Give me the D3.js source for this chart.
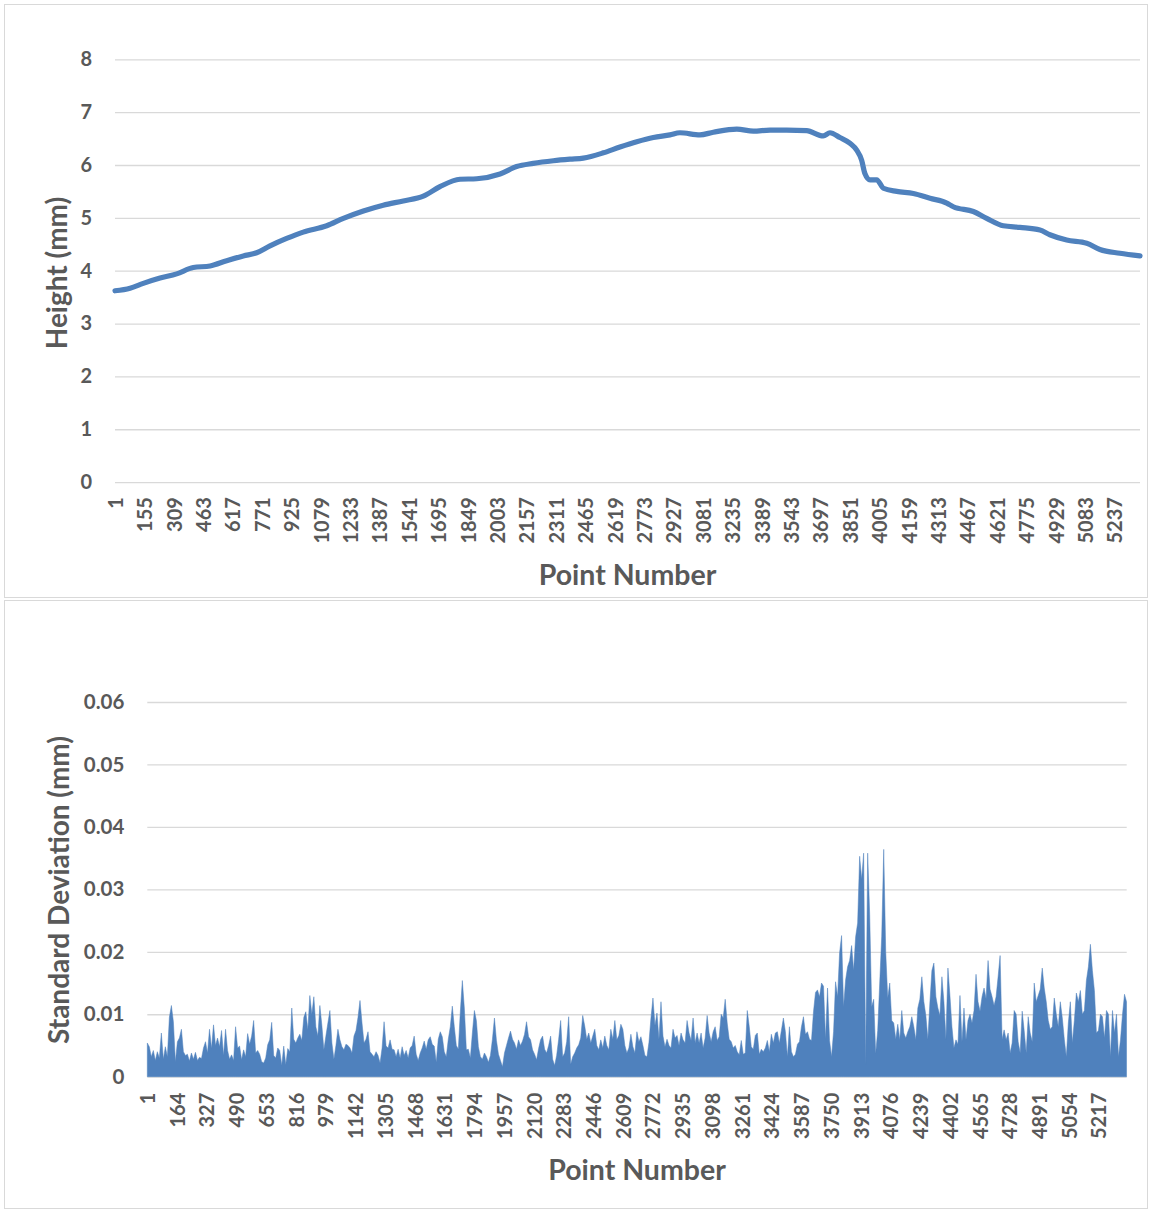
<!DOCTYPE html>
<html>
<head>
<meta charset="utf-8">
<script src="https://cdn.jsdelivr.net/npm/d3@7"></script>
<style>
  html, body { margin: 0; padding: 0; background: #ffffff; }
  svg { display: block; }
  text { font-family: Lato, "Noto Sans", sans-serif; font-weight: 700; fill: #595959; }
</style>
</head>
<body>
<svg id="chart" width="1151" height="1211"></svg>
<script>
// ---- Height profile (mm) along the scan ----
const heightPointNumbers = [1, 80, 149, 237, 324, 411, 499, 586, 673, 743,
  813, 900, 987, 1110, 1197, 1302, 1406, 1511, 1616, 1703,
  1808, 1896, 2018, 2105, 2192, 2297, 2384, 2454, 2559, 2646,
  2734, 2821, 2908, 2960, 3065, 3135, 3258, 3345, 3432, 3519,
  3624, 3711, 3746, 3798, 3851, 3886, 3912, 3929, 3956, 3991,
  4026, 4096, 4183, 4270, 4358, 4392, 4497, 4567, 4654, 4741,
  4846, 4898, 4986, 5091, 5160, 5265, 5370];
const heightMm = [3.62, 3.67, 3.76, 3.86, 3.94, 4.06, 4.09, 4.19, 4.28, 4.34,
  4.47, 4.61, 4.73, 4.85, 4.99, 5.13, 5.24, 5.32, 5.41, 5.59,
  5.73, 5.74, 5.83, 5.97, 6.03, 6.08, 6.11, 6.13, 6.23, 6.34,
  6.44, 6.52, 6.57, 6.61, 6.57, 6.62, 6.68, 6.64, 6.66, 6.66,
  6.65, 6.55, 6.61, 6.52, 6.41, 6.28, 6.09, 5.84, 5.72, 5.72,
  5.56, 5.50, 5.46, 5.37, 5.28, 5.21, 5.12, 4.99, 4.85, 4.82,
  4.77, 4.68, 4.58, 4.52, 4.40, 4.33, 4.28];
const heightTickLabels = [1, 155, 309, 463, 617, 771, 925, 1079, 1233, 1387,
  1541, 1695, 1849, 2003, 2157, 2311, 2465, 2619, 2773, 2927,
  3081, 3235, 3389, 3543, 3697, 3851, 4005, 4159, 4313, 4467,
  4621, 4775, 4929, 5083, 5237];
const heightYTicks = [0, 1, 2, 3, 4, 5, 6, 7, 8];

// ---- Standard deviation (mm), one value every sdStep points ----
const sdStep = 11;
const sdMm = [
  0.0054,0.0048,0.0032,0.0042,0.0026,0.0040,0.0030,0.0070,0.0028,0.0048,0.0032,0.0095,0.0114,0.0088,0.0024,0.0056,0.0062,0.0076,0.0040,0.0034,
  0.0036,0.0025,0.0038,0.0028,0.0039,0.0026,0.0031,0.0029,0.0046,0.0056,0.0038,0.0076,0.0045,0.0083,0.0050,0.0062,0.0048,0.0074,0.0034,0.0076,
  0.0042,0.0028,0.0035,0.0026,0.0080,0.0046,0.0049,0.0027,0.0043,0.0032,0.0069,0.0052,0.0065,0.0090,0.0038,0.0042,0.0036,0.0024,0.0022,0.0030,
  0.0051,0.0059,0.0087,0.0034,0.0030,0.0046,0.0042,0.0018,0.0049,0.0019,0.0045,0.0040,0.0110,0.0060,0.0054,0.0062,0.0068,0.0058,0.0095,0.0104,
  0.0075,0.0130,0.0100,0.0128,0.0080,0.0065,0.0114,0.0082,0.0043,0.0065,0.0086,0.0106,0.0054,0.0028,0.0050,0.0076,0.0059,0.0048,0.0043,0.0052,
  0.0050,0.0046,0.0038,0.0065,0.0074,0.0095,0.0122,0.0086,0.0054,0.0060,0.0072,0.0040,0.0036,0.0032,0.0040,0.0034,0.0022,0.0046,0.0088,0.0049,
  0.0046,0.0059,0.0044,0.0043,0.0032,0.0044,0.0030,0.0048,0.0034,0.0042,0.0030,0.0046,0.0050,0.0065,0.0036,0.0026,0.0038,0.0046,0.0057,0.0044,
  0.0059,0.0064,0.0052,0.0049,0.0023,0.0060,0.0072,0.0064,0.0040,0.0032,0.0060,0.0080,0.0113,0.0080,0.0050,0.0044,0.0104,0.0154,0.0110,0.0043,
  0.0044,0.0030,0.0070,0.0106,0.0090,0.0048,0.0032,0.0028,0.0038,0.0032,0.0023,0.0034,0.0060,0.0094,0.0058,0.0036,0.0026,0.0016,0.0038,0.0050,
  0.0062,0.0073,0.0060,0.0054,0.0044,0.0059,0.0050,0.0057,0.0068,0.0088,0.0064,0.0059,0.0043,0.0036,0.0027,0.0045,0.0059,0.0065,0.0044,0.0038,
  0.0050,0.0065,0.0028,0.0018,0.0034,0.0060,0.0090,0.0032,0.0038,0.0056,0.0096,0.0020,0.0032,0.0038,0.0046,0.0051,0.0062,0.0098,0.0081,0.0060,
  0.0070,0.0054,0.0065,0.0076,0.0050,0.0043,0.0059,0.0046,0.0065,0.0050,0.0043,0.0076,0.0060,0.0090,0.0059,0.0066,0.0084,0.0076,0.0050,0.0038,
  0.0046,0.0068,0.0048,0.0038,0.0072,0.0056,0.0064,0.0050,0.0034,0.0032,0.0055,0.0094,0.0126,0.0082,0.0102,0.0060,0.0120,0.0065,0.0048,0.0060,
  0.0050,0.0046,0.0076,0.0062,0.0066,0.0050,0.0070,0.0059,0.0054,0.0090,0.0070,0.0058,0.0094,0.0054,0.0070,0.0054,0.0070,0.0046,0.0062,0.0098,
  0.0070,0.0056,0.0072,0.0080,0.0058,0.0064,0.0100,0.0094,0.0124,0.0086,0.0060,0.0056,0.0046,0.0050,0.0040,0.0035,0.0058,0.0036,0.0038,0.0106,
  0.0080,0.0048,0.0044,0.0066,0.0070,0.0036,0.0044,0.0040,0.0046,0.0058,0.0040,0.0068,0.0054,0.0070,0.0072,0.0054,0.0074,0.0094,0.0072,0.0032,
  0.0080,0.0040,0.0032,0.0036,0.0052,0.0056,0.0080,0.0096,0.0068,0.0072,0.0060,0.0058,0.0104,0.0135,0.0139,0.0128,0.0150,0.0145,0.0060,0.0142,
  0.0058,0.0032,0.0072,0.0152,0.0128,0.0198,0.0226,0.0112,0.0155,0.0176,0.0186,0.0210,0.0170,0.0224,0.0246,0.0353,0.0316,0.0358,0.0019,0.0358,
  0.0260,0.0112,0.0124,0.0037,0.0074,0.0150,0.0225,0.0364,0.0200,0.0126,0.0150,0.0090,0.0086,0.0060,0.0084,0.0059,0.0106,0.0070,0.0062,0.0072,
  0.0080,0.0096,0.0080,0.0059,0.0110,0.0124,0.0160,0.0120,0.0098,0.0060,0.0118,0.0170,0.0182,0.0128,0.0110,0.0098,0.0160,0.0120,0.0060,0.0174,
  0.0130,0.0080,0.0046,0.0059,0.0052,0.0130,0.0056,0.0110,0.0059,0.0090,0.0100,0.0086,0.0106,0.0164,0.0120,0.0105,0.0128,0.0142,0.0125,0.0186,
  0.0140,0.0128,0.0114,0.0128,0.0160,0.0194,0.0060,0.0075,0.0059,0.0070,0.0038,0.0054,0.0106,0.0100,0.0056,0.0038,0.0105,0.0074,0.0038,0.0096,
  0.0070,0.0056,0.0150,0.0120,0.0130,0.0140,0.0174,0.0142,0.0120,0.0090,0.0076,0.0080,0.0126,0.0100,0.0080,0.0120,0.0094,0.0060,0.0032,0.0086,
  0.0120,0.0054,0.0090,0.0134,0.0120,0.0138,0.0100,0.0106,0.0154,0.0176,0.0212,0.0170,0.0138,0.0070,0.0074,0.0100,0.0096,0.0062,0.0106,0.0100,
  0.0032,0.0106,0.0070,0.0100,0.0032,0.0059,0.0100,0.0132,0.0120
];
const sdTickLabels = [1, 164, 327, 490, 653, 816, 979, 1142, 1305, 1468,
  1631, 1794, 1957, 2120, 2283, 2446, 2609, 2772, 2935, 3098,
  3261, 3424, 3587, 3750, 3913, 4076, 4239, 4402, 4565, 4728,
  4891, 5054, 5217];
const sdYTicks = [0, 0.01, 0.02, 0.03, 0.04, 0.05, 0.06];

const pointCount = 5370;
const xTitle = "Point Number";

// ---- drawing ----
const svg = d3.select("#chart");
const BLUE = "#4f81bd";
const GRID = "#d9d9d9";

function drawPanel(cfg) {
  const g = svg.append("g");

  // chart frame
  g.append("rect")
    .attr("x", cfg.frame[0]).attr("y", cfg.frame[1])
    .attr("width", cfg.frame[2]).attr("height", cfg.frame[3])
    .attr("fill", "#ffffff").attr("stroke", GRID).attr("stroke-width", 1);

  const x = d3.scaleLinear().domain([1, pointCount]).range([cfg.left, cfg.right]);
  const y = d3.scaleLinear().domain([cfg.yTicks[0], cfg.yTicks[cfg.yTicks.length - 1]])
    .range([cfg.bottom, cfg.top]);

  // value axis with horizontal gridlines
  const yAxis = g.append("g")
    .attr("transform", `translate(${cfg.left},0)`)
    .call(d3.axisLeft(y).tickValues(cfg.yTicks)
      .tickSize(-(cfg.right - cfg.left)).tickPadding(23).tickFormat(cfg.yFormat));
  yAxis.select(".domain").remove();
  yAxis.selectAll(".tick line").attr("stroke", GRID).attr("stroke-width", 1.3);
  yAxis.selectAll(".tick text")
    .attr("font-size", cfg.yFontSize).attr("fill", "#595959")
    .style("font-family", "Lato, 'Noto Sans', sans-serif").style("font-weight", 700);

  // data mark
  cfg.drawMark(g, x, y);

  // category axis with rotated labels
  const xAxis = g.append("g")
    .attr("transform", `translate(0,${cfg.bottom})`)
    .call(d3.axisBottom(x).tickValues(cfg.xTicks).tickSize(0).tickFormat(d3.format("d")));
  xAxis.select(".domain").remove();
  xAxis.selectAll(".tick text")
    .attr("transform", "rotate(-90)")
    .attr("text-anchor", "end")
    .attr("x", -cfg.xLabelOffset).attr("y", 0).attr("dy", "0.36em")
    .attr("font-size", 20).attr("fill", "#595959")
    .style("font-family", "Lato, 'Noto Sans', sans-serif").style("font-weight", 700);

  // axis titles
  g.append("text")
    .attr("x", (cfg.left + cfg.right) / 2).attr("y", cfg.xTitleY)
    .attr("text-anchor", "middle").attr("font-size", 28.5)
    .text(xTitle);
  g.append("text")
    .attr("transform", `translate(${cfg.yTitleX},${cfg.yTitleY}) rotate(-90)`)
    .attr("text-anchor", "middle").attr("dominant-baseline", "central")
    .attr("font-size", 28)
    .text(cfg.yTitle);
}

// upper panel: height line
drawPanel({
  frame: [4.5, 4.5, 1143, 593],
  left: 115, right: 1140, top: 59.3, bottom: 482.1,
  yTicks: heightYTicks, yFormat: d3.format("d"), yFontSize: 20,
  xTicks: heightTickLabels, xLabelOffset: 15,
  xTitleY: 585, yTitle: "Height (mm)", yTitleX: 56, yTitleY: 273,
  drawMark: (g, x, y) => {
    const pts = heightPointNumbers.map((p, i) => ({ p, v: heightMm[i] }));
    g.append("path")
      .datum(pts)
      .attr("fill", "none").attr("stroke", BLUE).attr("stroke-width", 5.2)
      .attr("stroke-linejoin", "round").attr("stroke-linecap", "round")
      .attr("d", d3.line().x(d => x(d.p)).y(d => y(d.v)).curve(d3.curveMonotoneX));
  }
});

// lower panel: standard deviation area
drawPanel({
  frame: [4.5, 600.5, 1143, 608],
  left: 147.3, right: 1126.7, top: 702, bottom: 1076.7,
  yTicks: sdYTicks, yFormat: d => d === 0 ? "0" : d3.format(".2f")(d), yFontSize: 20.5,
  xTicks: sdTickLabels, xLabelOffset: 16,
  xTitleY: 1180, yTitle: "Standard Deviation (mm)", yTitleX: 57.5, yTitleY: 890,
  drawMark: (g, x, y) => {
    const pts = sdMm.map((v, i) => ({ p: 1 + i * sdStep, v }));
    g.append("path")
      .datum(pts)
      .attr("fill", BLUE).attr("stroke", BLUE).attr("stroke-width", 0.5)
      .attr("stroke-linejoin", "miter")
      .attr("d", d3.area().x(d => x(d.p)).y0(y(0)).y1(d => y(d.v)));
  }
});
</script>
</body>
</html>
